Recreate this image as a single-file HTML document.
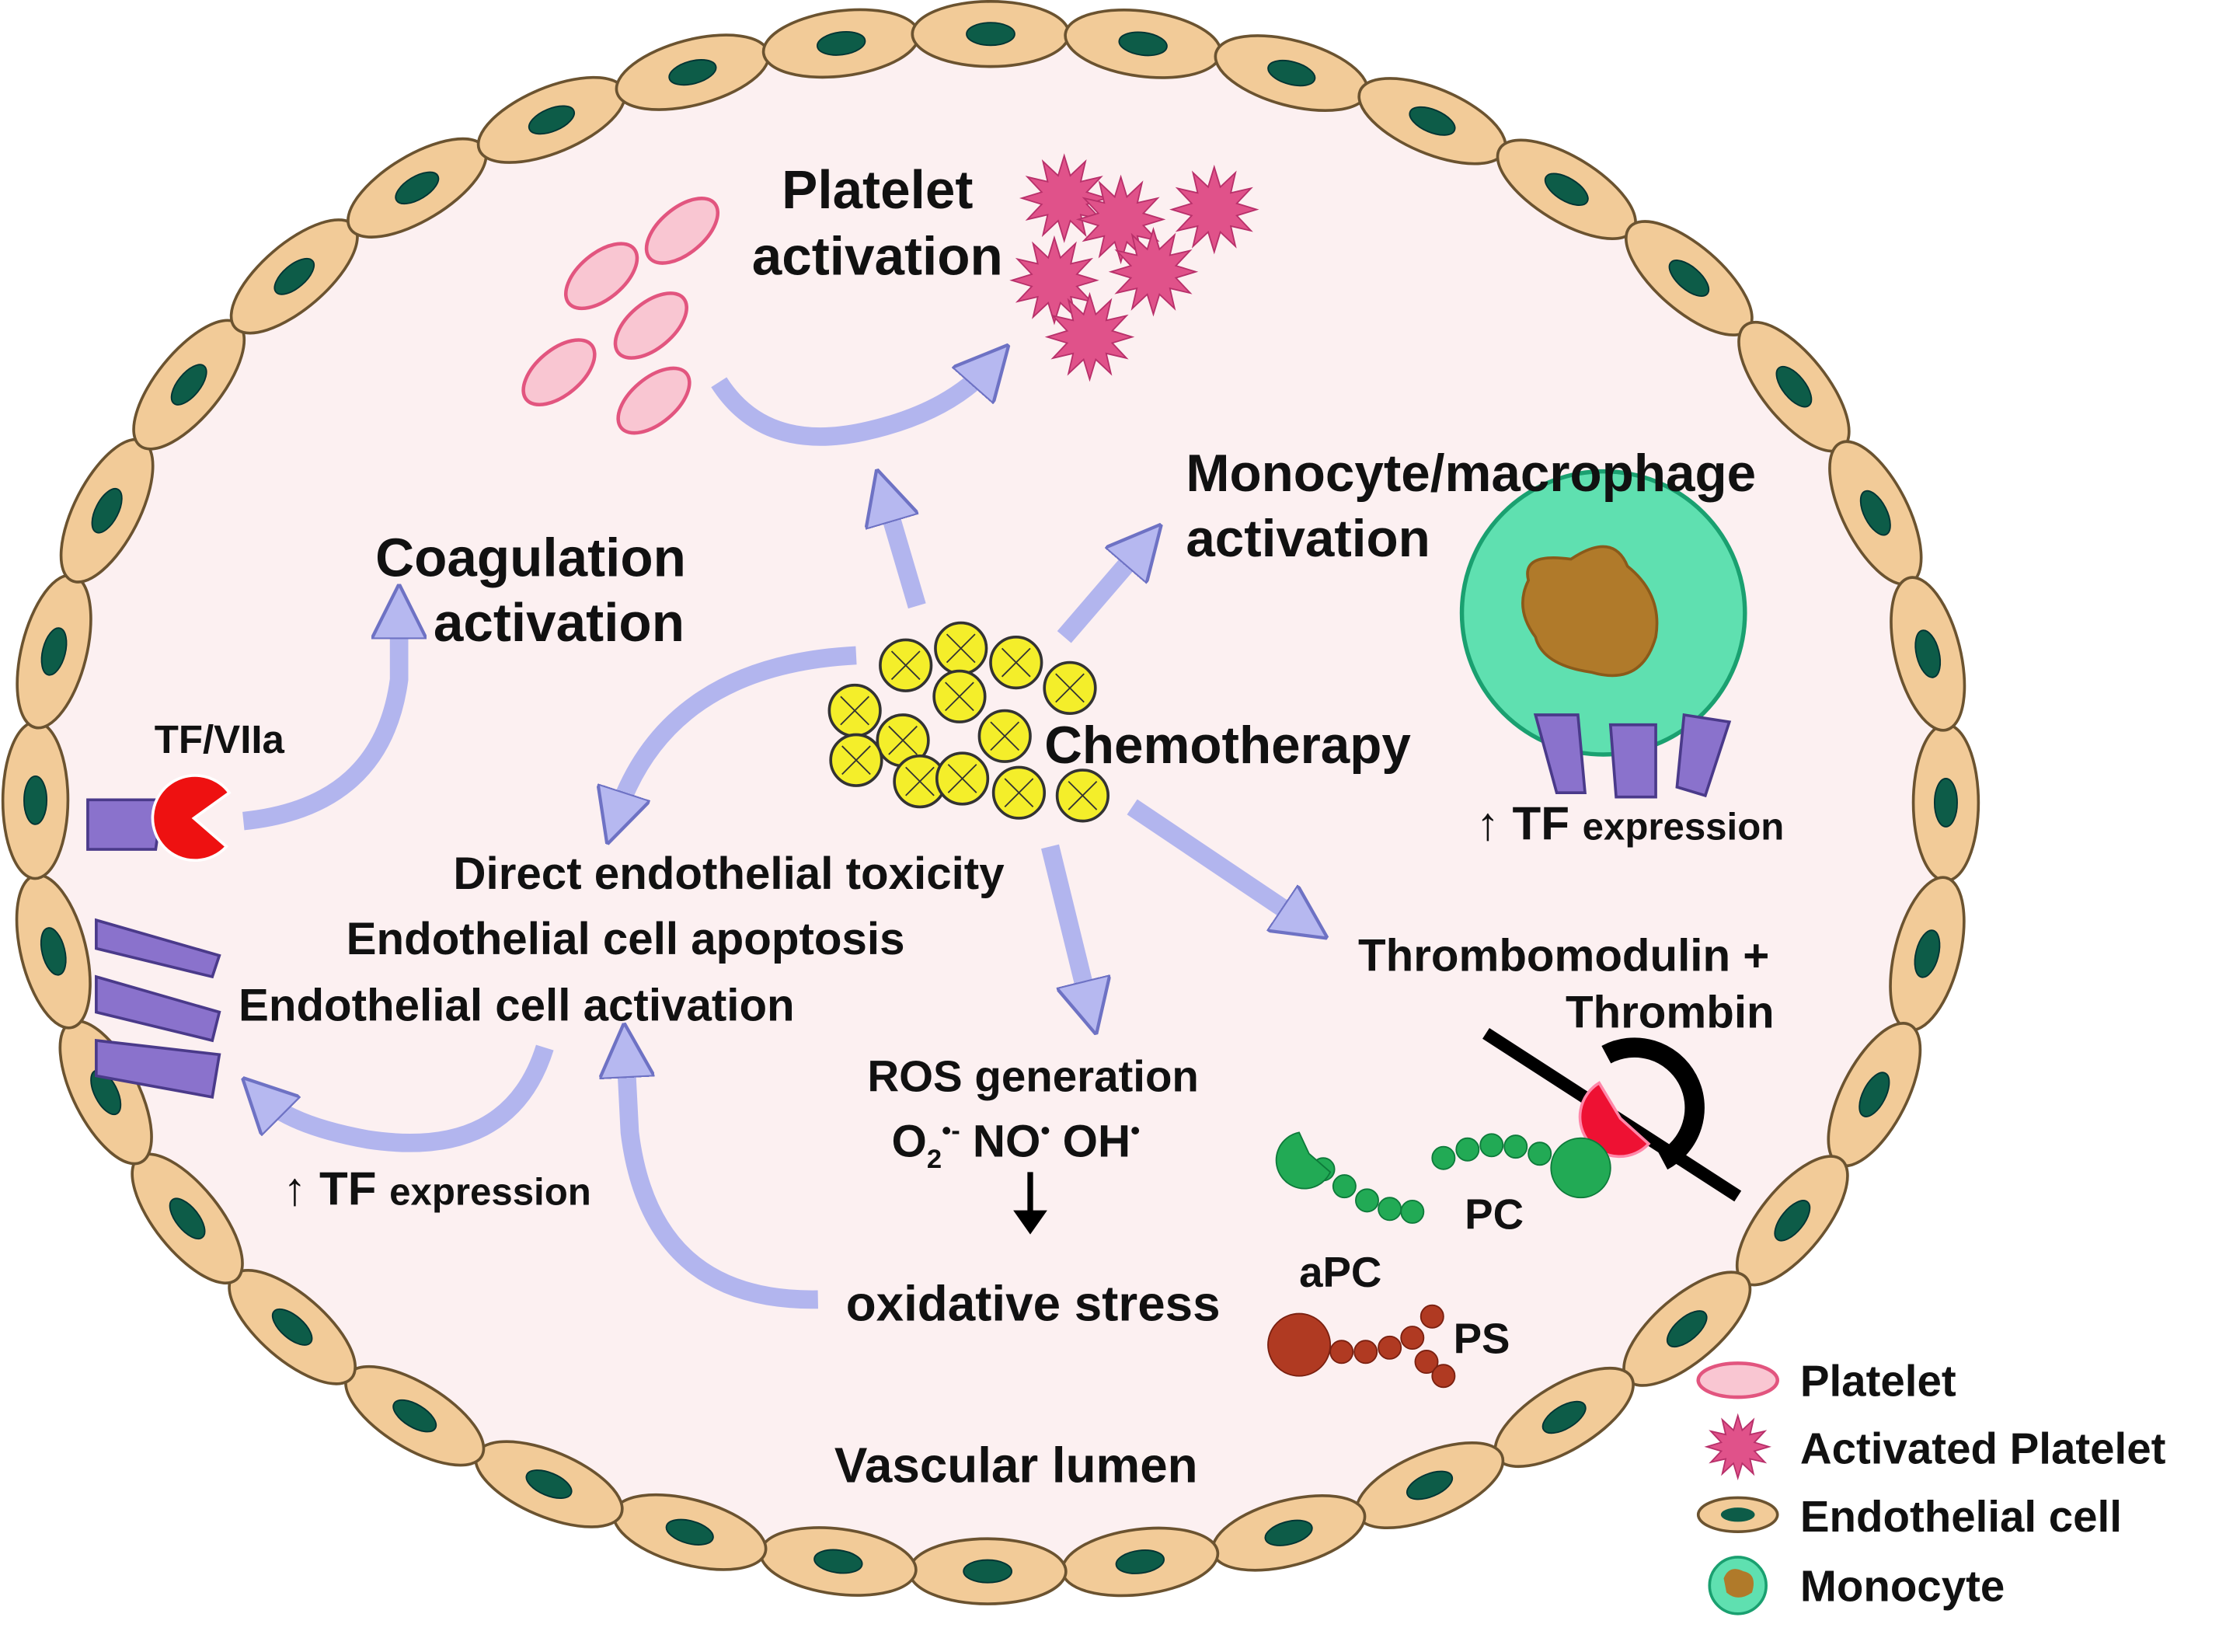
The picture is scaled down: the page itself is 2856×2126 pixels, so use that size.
<!DOCTYPE html>
<html><head><meta charset="utf-8"><style>
html,body{margin:0;padding:0;background:#fff;}
svg{display:block}
text{font-family:"Liberation Sans",sans-serif;font-weight:bold;fill:#111}
</style></head><body>
<svg id="s" width="2856" height="2126" viewBox="0 0 1568 1167" preserveAspectRatio="none" xmlns="http://www.w3.org/2000/svg">
<defs>
<marker id="ah" viewBox="0 0 10 10" refX="5" refY="5" markerWidth="3" markerHeight="3" orient="auto">
<path d="M0,0 L10,5 L0,10 Z" fill="#b6b8f0" stroke="#6e72c4" stroke-width="0.6"/>
</marker>
</defs>
<ellipse cx="700" cy="567" rx="675" ry="543" fill="#fcf0f1"/>
<g id="cells"></g>

<g fill="none" stroke="#b2b5ee" stroke-width="13" marker-end="url(#ah)">
<path d="M648,428 L625,350"/>
<path d="M752,450 L808,385"/>
<path d="M742,598 L770,712"/>
<path d="M800,570 L922,652"/>
<path d="M508,270 Q540,320 610,305 Q670,292 700,258"/>
<path d="M172,580 Q270,570 282,480 L282,432"/>
<path d="M605,463 Q470,470 435,578"/>
<path d="M385,740 Q360,820 260,805 Q205,795 185,775"/>
<path d="M578,918 Q460,920 445,800 L442,742"/>
</g>

<g fill="#f9c6d2" stroke="#e2557f" stroke-width="2.5">
<ellipse cx="482" cy="163" rx="30" ry="16" transform="rotate(-40 482 163)"/>
<ellipse cx="425" cy="195" rx="30" ry="16" transform="rotate(-40 425 195)"/>
<ellipse cx="460" cy="230" rx="30" ry="16" transform="rotate(-40 460 230)"/>
<ellipse cx="395" cy="263" rx="30" ry="16" transform="rotate(-40 395 263)"/>
<ellipse cx="462" cy="283" rx="30" ry="16" transform="rotate(-40 462 283)"/>
</g>
<g id="stars" fill="#e0528a" stroke="#b8306a" stroke-width="1"></g>
<g id="chemo" fill="#f4ee2a" stroke="#333" stroke-width="2"></g>

<circle cx="1133" cy="433" r="100" fill="#5fe0b0" stroke="#1aa070" stroke-width="3"/>
<path d="M1080,410 Q1075,390 1110,395 Q1140,375 1150,400 Q1175,420 1170,450 Q1160,485 1125,475 Q1090,470 1085,450 Q1070,430 1080,410Z" fill="#b07a2a" stroke="#8a5a1a" stroke-width="2"/>
<g fill="#8a72cc" stroke="#4a3a8a" stroke-width="2">
<path d="M1085,505 L1115,505 L1120,560 L1100,560Z"/>
<path d="M1138,512 L1170,512 L1170,563 L1142,563Z"/>
<path d="M1190,505 L1222,510 L1205,562 L1185,556Z"/>
</g>

<g fill="#8a72cc" stroke="#4a3a8a" stroke-width="2">
<path d="M62,565 L115,565 L110,600 L62,600Z"/>
<path d="M68,650 L155,675 L150,690 L68,670Z"/>
<path d="M68,690 L155,715 L150,735 L68,715Z"/>
<path d="M68,735 L155,745 L150,775 L68,760Z"/>
</g>
<path d="M137,578 L162,560 A30,30 0 1,0 160,598 Z" fill="#ee1111" stroke="#fff" stroke-width="2"/>

<line x1="1050" y1="730" x2="1228" y2="845" stroke="#000" stroke-width="9"/>
<path d="M1135,745 A40,40 0 1,1 1175,820" fill="none" stroke="#000" stroke-width="14"/>
<path d="M1145,790 L1130,765 A28,28 0 1,0 1165,808 Z" fill="#ee1133" stroke="#f8a" stroke-width="2"/>

<g fill="#22aa55" stroke="#0d7a3a" stroke-width="1">
<circle cx="1020" cy="818" r="8"/><circle cx="1037" cy="812" r="8"/><circle cx="1054" cy="809" r="8"/><circle cx="1071" cy="810" r="8"/><circle cx="1088" cy="815" r="8"/>
<circle cx="1117" cy="825" r="21"/>
<circle cx="935" cy="826" r="8"/><circle cx="950" cy="838" r="8"/><circle cx="966" cy="848" r="8"/><circle cx="982" cy="854" r="8"/><circle cx="998" cy="856" r="8"/>
<path d="M918,800 A20,20 0 1,0 940,828 L925,815 Z"/>
</g>
<g fill="#b03a22" stroke="#7a2010" stroke-width="1">
<circle cx="918" cy="950" r="22"/>
<circle cx="948" cy="955" r="8"/><circle cx="965" cy="955" r="8"/><circle cx="982" cy="952" r="8"/><circle cx="998" cy="945" r="8"/>
<circle cx="1012" cy="930" r="8"/><circle cx="1008" cy="962" r="8"/><circle cx="1020" cy="972" r="8"/>
</g>

<g text-anchor="middle">
<text x="620" y="147" font-size="38">Platelet</text>
<text x="620" y="194" font-size="38">activation</text>
<text x="375" y="407" font-size="38">Coagulation</text>
<text x="395" y="453" font-size="38">activation</text>
<text x="515" y="628" font-size="32">Direct endothelial toxicity</text>
<text x="442" y="674" font-size="32">Endothelial cell apoptosis</text>
<text x="365" y="721" font-size="32">Endothelial cell activation</text>
<text x="730" y="771" font-size="31">ROS generation</text>
<text x="730" y="933" font-size="35">oxidative stress</text>
<text x="718" y="1047" font-size="35">Vascular lumen</text>
<text x="155" y="532" font-size="28">TF/VIIa</text>
<text x="1105" y="686" font-size="32">Thrombomodulin +</text>
<text x="1180" y="726" font-size="32">Thrombin</text>
</g>
<text x="838" y="347" font-size="37">Monocyte/macrophage</text>
<text x="838" y="393" font-size="37">activation</text>
<text x="738" y="539" font-size="37">Chemotherapy</text>
<text x="1043" y="593" font-size="33"><tspan font-weight="normal">↑</tspan> TF <tspan font-size="27">expression</tspan></text>
<text x="200" y="851" font-size="33"><tspan font-weight="normal">↑</tspan> TF <tspan font-size="27">expression</tspan></text>
<text x="630" y="817" font-size="32">O<tspan font-size="19" dy="8">2</tspan><tspan font-size="19" dy="-20">•-</tspan><tspan dy="12"> NO</tspan><tspan font-size="19" dy="-12">•</tspan><tspan dy="12"> OH</tspan><tspan font-size="19" dy="-12">•</tspan></text>
<line x1="728" y1="828" x2="728" y2="858" stroke="#000" stroke-width="4"/>
<path d="M716,855 L740,855 L728,872Z" fill="#000"/>
<text x="1035" y="868" font-size="30">PC</text>
<text x="918" y="909" font-size="30">aPC</text>
<text x="1027" y="956" font-size="30">PS</text>

<ellipse cx="1228" cy="975" rx="28" ry="12" fill="#f9c6d2" stroke="#e2557f" stroke-width="2.5"/>
<g id="lstar" fill="#e0528a" stroke="#b8306a" stroke-width="1"></g>
<ellipse cx="1228" cy="1070" rx="28" ry="12" fill="#f2cb98" stroke="#6b5330" stroke-width="2"/>
<ellipse cx="1228" cy="1070" rx="12" ry="5" fill="#0d5c48"/>
<circle cx="1228" cy="1120" r="20" fill="#5fe0b0" stroke="#1aa070" stroke-width="2"/>
<path d="M1218,1115 Q1222,1105 1232,1110 Q1242,1112 1238,1125 Q1228,1132 1220,1125Z" fill="#b07a2a"/>
<text x="1272" y="986" font-size="31">Platelet</text>
<text x="1272" y="1034" font-size="31">Activated Platelet</text>
<text x="1272" y="1082" font-size="31">Endothelial cell</text>
<text x="1272" y="1131" font-size="31">Monocyte</text>
</svg>
<script>
var NS="http://www.w3.org/2000/svg";
function el(p,t,a){var e=document.createElementNS(NS,t);for(var k in a)e.setAttribute(k,a[k]);p.appendChild(e);return e;}
var g=document.getElementById("cells"),cx=700,cy=567,rx=675,ry=543,N=36;
var M=2000,L=[0];
for(var i=1;i<=M;i++){var a0=2*Math.PI*(i-1)/M,a1=2*Math.PI*i/M;L.push(L[i-1]+Math.hypot(rx*(Math.cos(a1)-Math.cos(a0)),ry*(Math.sin(a1)-Math.sin(a0))));}
var P=L[M];
for(var n=0;n<N;n++){var target=P*n/N,j=0;while(L[j]<target)j++;var t=2*Math.PI*j/M;
var x=cx+rx*Math.cos(t),y=cy+ry*Math.sin(t),ang=Math.atan2(ry*Math.cos(t),-rx*Math.sin(t))*180/Math.PI;
var gg=el(g,"g",{transform:"translate("+x+","+y+") rotate("+ang+")"});
el(gg,"ellipse",{rx:P/N/2+2,ry:23,fill:"#f2cb98",stroke:"#6b5330","stroke-width":2});
el(gg,"ellipse",{rx:17,ry:8,fill:"#0d5c48",stroke:"#033","stroke-width":1});}
function star(p,x,y,r){var d="";for(var k=0;k<24;k++){var rr=k%2?r*0.55:r,a=k*Math.PI/12;d+=(k?"L":"M")+(x+rr*Math.cos(a)).toFixed(1)+","+(y+rr*Math.sin(a)).toFixed(1);}el(p,"path",{d:d+"Z"});}
var st=document.getElementById("stars");
[[752,140],[792,155],[858,148],[745,198],[815,192],[770,238]].forEach(function(q){star(st,q[0],q[1],30);});
star(document.getElementById("lstar"),1228,1022,22);
var ch=document.getElementById("chemo");
[[640,470],[679,458],[718,468],[756,486],[604,502],[678,492],[638,523],[710,520],[605,537],[650,552],[680,550],[720,560],[765,562]].forEach(function(q){
el(ch,"circle",{cx:q[0],cy:q[1],r:18});
el(ch,"path",{d:"M"+(q[0]-10)+","+(q[1]-10)+"L"+(q[0]+10)+","+(q[1]+10)+"M"+(q[0]+10)+","+(q[1]-10)+"L"+(q[0]-10)+","+(q[1]+10),"stroke-width":1});});
</script>
</body></html>
